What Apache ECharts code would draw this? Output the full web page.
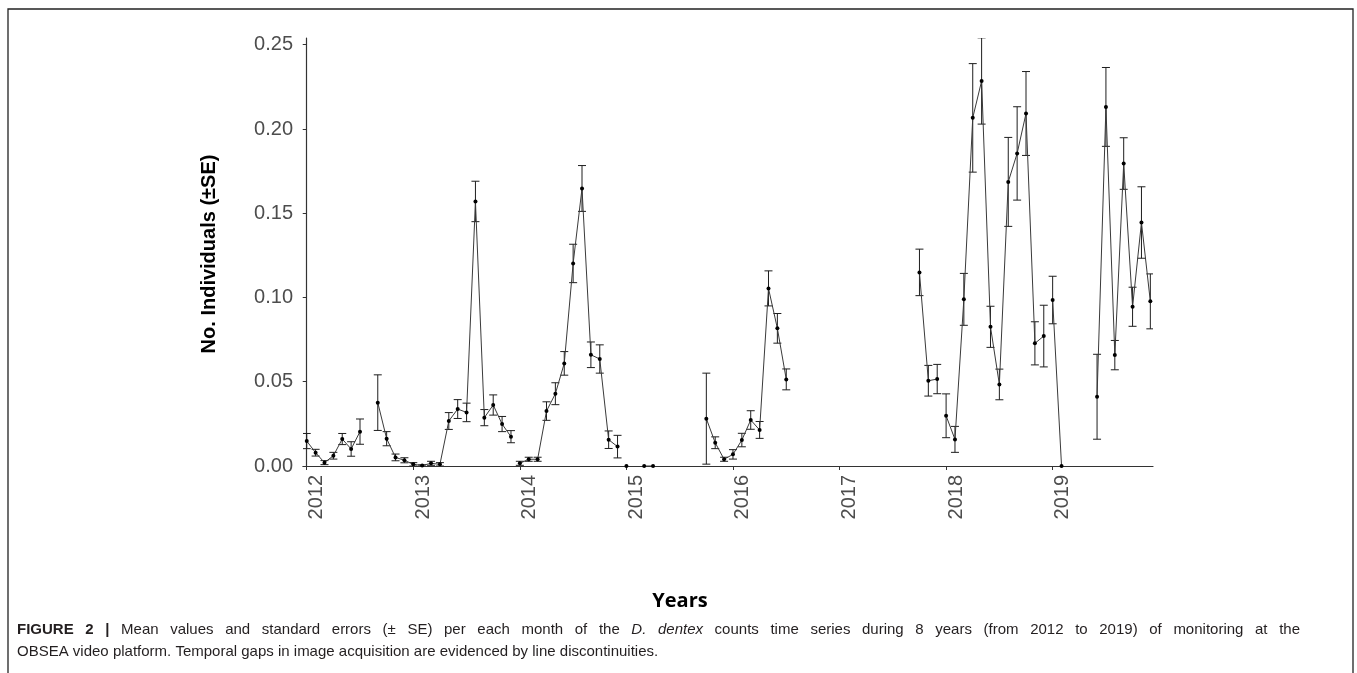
<!DOCTYPE html>
<html>
<head>
<meta charset="utf-8">
<script src="https://cdn.jsdelivr.net/npm/echarts@6/dist/echarts.min.js"></script>
<style>
  html, body { margin: 0; padding: 0; background: #ffffff; }
  #chart { width: 1357px; height: 673px; }
</style>
</head>
<body>
<div id="chart"></div>
<script>
// Monthly D. dentex counts: mean and standard error per month
const months = [
  '2012-01','2012-02','2012-03','2012-04','2012-05','2012-06','2012-07',
  '2012-09','2012-10','2012-11','2012-12',
  '2013-01','2013-02','2013-03','2013-04','2013-05','2013-06','2013-07','2013-08','2013-09','2013-10','2013-11','2013-12',
  '2014-01','2014-02','2014-03','2014-04','2014-05','2014-06','2014-07','2014-08','2014-09','2014-10','2014-11','2014-12',
  '2015-01','2015-03','2015-04','2015-10','2015-11','2015-12',
  '2016-01','2016-02','2016-03','2016-04','2016-05','2016-06','2016-07',
  '2017-10','2017-11','2017-12',
  '2018-01','2018-02','2018-03','2018-04','2018-05','2018-06','2018-07','2018-08','2018-09','2018-10','2018-11','2018-12',
  '2019-01','2019-02','2019-06','2019-07','2019-08','2019-09','2019-10','2019-11','2019-12'
];
const means = [
  0.0148, 0.0079, 0.0020, 0.0061, 0.0160, 0.0101, 0.0204,
  0.0376, 0.0162, 0.0051, 0.0034,
  0.0010, 0.0003, 0.0016, 0.0010, 0.0267, 0.0338, 0.0318, 0.1570, 0.0287, 0.0362, 0.0249, 0.0174,
  0.0016, 0.0040, 0.0040, 0.0326, 0.0429, 0.0609, 0.1202, 0.1647, 0.0660, 0.0635, 0.0156, 0.0115,
  0.0000, 0.0000, 0.0000, 0.0281, 0.0138, 0.0040,
  0.0069, 0.0154, 0.0273, 0.0214, 0.1054, 0.0817, 0.0514,
  0.1149, 0.0506, 0.0516,
  0.0298, 0.0158, 0.0989, 0.2066, 0.2285, 0.0826, 0.0484, 0.1686, 0.1855, 0.2092, 0.0728, 0.0771,
  0.0985, 0.0000, 0.0411, 0.2131, 0.0658, 0.1795, 0.0945, 0.1445, 0.0977
];
const ses = [
  0.0045, 0.0020, 0.0012, 0.0020, 0.0033, 0.0043, 0.0075,
  0.0165, 0.0042, 0.0020, 0.0015,
  0.0010, 0.0004, 0.0012, 0.0010, 0.0050, 0.0056, 0.0055, 0.0120, 0.0048, 0.0060, 0.0045, 0.0036,
  0.0012, 0.0012, 0.0012, 0.0055, 0.0065, 0.0070, 0.0114, 0.0136, 0.0076, 0.0084, 0.0052, 0.0067,
  0.0000, 0.0000, 0.0000, 0.0270, 0.0035, 0.0012,
  0.0028, 0.0040, 0.0055, 0.0050, 0.0104, 0.0088, 0.0062,
  0.0138, 0.0091, 0.0087,
  0.0130, 0.0077, 0.0154, 0.0322, 0.0256, 0.0122, 0.0091, 0.0264, 0.0277, 0.0249, 0.0128, 0.0183,
  0.0141, 0.0000, 0.0252, 0.0234, 0.0087, 0.0153, 0.0116, 0.0212, 0.0163
];
// Months where the line restarts after an acquisition gap
const segmentStarts = ['2012-01','2012-09','2014-01','2015-01','2015-03','2015-10','2017-10','2018-01','2019-01','2019-06'];
const yearLabels = ['2012','2013','2014','2015','2016','2017','2018','2019'];
const yTicks = [0, 0.05, 0.10, 0.15, 0.20, 0.25];

const firstYear = 2012;
function monthIndex(s) {
  const [y, m] = s.split('-').map(Number);
  return (y - firstYear) * 12 + (m - 1);
}
const yearTickValues = yearLabels.map(y => (Number(y) - firstYear) * 12);

// split points into line runs
const runs = [];
months.forEach((m, i) => {
  if (segmentStarts.includes(m) || runs.length === 0) runs.push([]);
  runs[runs.length - 1].push([monthIndex(m), means[i]]);
});
const errData = months.map((m, i) => [monthIndex(m), means[i], ses[i]]);

const lineSeries = runs.map((run, k) => ({
  name: 'run' + k,
  type: 'line',
  data: run,
  symbol: 'circle',
  symbolSize: 4,
  showSymbol: true,
  lineStyle: { color: '#3a3a3a', width: 1 },
  itemStyle: { color: '#000000' },
  silent: true,
  animation: false,
  z: 3
}));

const errorSeries = {
  type: 'custom',
  data: errData,
  encode: { x: 0, y: 1 },
  clip: true,
  silent: true,
  animation: false,
  z: 2,
  renderItem: function (params, api) {
    const x = api.value(0), m = api.value(1), s = api.value(2);
    if (!(s > 0)) return null;
    const top = api.coord([x, m + s]);
    const bot = api.coord([x, m - s]);
    const w = 4;
    const st = { stroke: '#1e1e1e', lineWidth: 1 };
    return {
      type: 'group',
      children: [
        { type: 'line', shape: { x1: top[0], y1: top[1], x2: bot[0], y2: bot[1] }, style: st },
        { type: 'line', shape: { x1: top[0] - w, y1: top[1], x2: top[0] + w, y2: top[1] }, style: st },
        { type: 'line', shape: { x1: bot[0] - w, y1: bot[1], x2: bot[0] + w, y2: bot[1] }, style: st }
      ]
    };
  }
};

// caption: first line justified across the frame, second line left aligned
const capFamily = '"Liberation Sans", Arial, sans-serif';
const capSize = 15;
const capLeft = 17, capRight = 1300;
const capLine1 = [
  { t: 'FIGURE 2 |', w: 'bold', s: 'normal' },
  { t: 'Mean values and standard errors (± SE) per each month of the', w: 'normal', s: 'normal' },
  { t: 'D. dentex', w: 'normal', s: 'italic' },
  { t: 'counts time series during 8 years (from 2012 to 2019) of monitoring at the', w: 'normal', s: 'normal' }
];
const capLine2 = 'OBSEA video platform. Temporal gaps in image acquisition are evidenced by line discontinuities.';

const measureCtx = document.createElement('canvas').getContext('2d');
function fontStr(w, s) { return s + ' ' + w + ' ' + capSize + 'px ' + capFamily; }
const words = [];
capLine1.forEach(part => {
  part.t.split(' ').forEach(word => {
    measureCtx.font = fontStr(part.w, part.s);
    words.push({ text: word, w: part.w, s: part.s, width: measureCtx.measureText(word).width });
  });
});
const totalW = words.reduce((a, b) => a + b.width, 0);
const gap = (capRight - capLeft - totalW) / (words.length - 1);
const captionEls = [];
let cx = capLeft;
words.forEach(wd => {
  captionEls.push({
    type: 'text', x: cx, y: 630, silent: true,
    style: { text: wd.text, font: fontStr(wd.w, wd.s), fill: '#231f20', textAlign: 'left', textVerticalAlign: 'middle', align: 'left', verticalAlign: 'middle' }
  });
  cx += wd.width + gap;
});
captionEls.push({
  type: 'text', x: capLeft, y: 652, silent: true,
  style: { text: capLine2, font: fontStr('normal', 'normal'), fill: '#231f20', textAlign: 'left', textVerticalAlign: 'middle', align: 'left', verticalAlign: 'middle' }
});

const chart = echarts.init(document.getElementById('chart'), null, { renderer: 'canvas' });
chart.setOption({
  backgroundColor: '#ffffff',
  animation: false,
  grid: { left: 303, right: 204, top: 38, bottom: 207, containLabel: false },
  xAxis: {
    type: 'value',
    min: -0.42,
    max: 95.3,
    splitLine: { show: false },
    axisLine: { show: true, onZero: false, lineStyle: { color: '#333333', width: 1.2 } },
    axisTick: { show: true, length: 4, customValues: yearTickValues, lineStyle: { color: '#333333', width: 1 } },
    axisLabel: {
      customValues: yearTickValues,
      formatter: v => yearLabels[Math.round(v / 12)],
      rotate: 90,
      verticalAlign: 'top',
      margin: 9,
      fontSize: 20,
      fontFamily: '"Liberation Sans", Arial, sans-serif',
      color: '#4d4d4d'
    }
  },
  yAxis: {
    type: 'value',
    min: 0,
    max: 0.254,
    splitLine: { show: false },
    axisLine: { show: true, lineStyle: { color: '#333333', width: 1.2 } },
    axisTick: { show: true, length: 4, customValues: yTicks, lineStyle: { color: '#333333', width: 1 } },
    axisLabel: {
      customValues: yTicks,
      formatter: v => v.toFixed(2),
      margin: 10,
      fontSize: 20,
      fontFamily: '"Liberation Sans", Arial, sans-serif',
      color: '#4d4d4d'
    }
  },
  series: [errorSeries].concat(lineSeries),
  graphic: [
    {
      type: 'rect', silent: true,
      shape: { x: 8, y: 9, width: 1345, height: 700 },
      style: { fill: 'none', stroke: '#222222', lineWidth: 1.3 }
    },
    {
      type: 'text', x: 209, y: 254, rotation: Math.PI / 2, silent: true,
      style: { text: 'No. Individuals (±SE)', font: 'bold 20px "Liberation Sans", Arial, sans-serif', fill: '#000000', textAlign: 'center', textVerticalAlign: 'middle', align: 'center', verticalAlign: 'middle' }
    },
    {
      type: 'text', x: 680, y: 601, silent: true,
      style: { text: 'Years', font: 'bold 20px "Open Sans", sans-serif', fill: '#000000', textAlign: 'center', textVerticalAlign: 'middle', align: 'center', verticalAlign: 'middle' }
    }
  ].concat(captionEls)
});
</script>
</body>
</html>
